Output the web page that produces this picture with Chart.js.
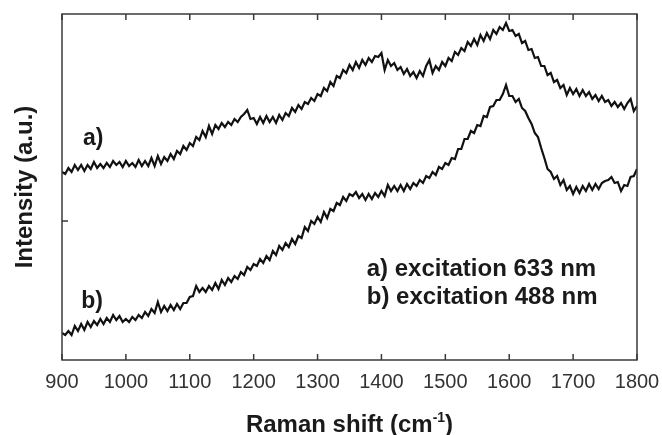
<!DOCTYPE html>
<html>
<head>
<meta charset="utf-8">
<script src="https://cdn.jsdelivr.net/npm/chart.js@4.4.1/dist/chart.umd.min.js"></script>
<style>
  html, body { margin: 0; padding: 0; background: #fff; }
  #wrap { width: 662px; height: 435px; }
</style>
</head>
<body>
<div id="wrap"><canvas id="ramanChart" width="662" height="435"></canvas></div>
<script>
// Raman shift (cm-1), sampled every 5 cm-1
const ramanShift = [
  900, 905, 910, 915, 920, 925, 930, 935, 940, 945, 950, 955, 960, 965, 970, 975, 980, 985, 990, 995,
  1000, 1005, 1010, 1015, 1020, 1025, 1030, 1035, 1040, 1045, 1050, 1055, 1060, 1065, 1070, 1075, 1080, 1085, 1090, 1095,
  1100, 1105, 1110, 1115, 1120, 1125, 1130, 1135, 1140, 1145, 1150, 1155, 1160, 1165, 1170, 1175, 1180, 1185, 1190, 1195,
  1200, 1205, 1210, 1215, 1220, 1225, 1230, 1235, 1240, 1245, 1250, 1255, 1260, 1265, 1270, 1275, 1280, 1285, 1290, 1295,
  1300, 1305, 1310, 1315, 1320, 1325, 1330, 1335, 1340, 1345, 1350, 1355, 1360, 1365, 1370, 1375, 1380, 1385, 1390, 1395,
  1400, 1405, 1410, 1415, 1420, 1425, 1430, 1435, 1440, 1445, 1450, 1455, 1460, 1465, 1470, 1475, 1480, 1485, 1490, 1495,
  1500, 1505, 1510, 1515, 1520, 1525, 1530, 1535, 1540, 1545, 1550, 1555, 1560, 1565, 1570, 1575, 1580, 1585, 1590, 1595,
  1600, 1605, 1610, 1615, 1620, 1625, 1630, 1635, 1640, 1645, 1650, 1655, 1660, 1665, 1670, 1675, 1680, 1685, 1690, 1695,
  1700, 1705, 1710, 1715, 1720, 1725, 1730, 1735, 1740, 1745, 1750, 1755, 1760, 1765, 1770, 1775, 1780, 1785, 1790, 1795,
  1800
];

// a) excitation 633 nm (a.u.)
const excitation633 = [
  188, 186, 192, 188, 195, 190, 195, 189, 195, 191, 198, 192, 196, 192, 197, 193, 199, 195, 198, 193,
  199, 194, 197, 193, 200, 194, 199, 194, 202, 194, 204, 196, 203, 199, 206, 201, 209, 206, 214, 210,
  217, 214, 223, 220, 229, 223, 234, 226, 235, 231, 237, 233, 238, 235, 241, 238, 243, 246, 250, 241,
  242, 236, 243, 237, 244, 238, 243, 237, 245, 240, 247, 244, 252, 248, 255, 251, 258, 256, 262, 259,
  266, 264, 272, 269, 278, 274, 284, 282, 290, 287, 295, 290, 298, 292, 300, 295, 302, 298, 304, 303,
  307, 290, 300, 294, 297, 290, 293, 286, 291, 284, 288, 282, 289, 284, 294, 300, 287, 294, 290, 298,
  294, 302, 299, 308, 305, 312, 309, 318, 314, 321, 315, 325, 319, 327, 321, 330, 326, 333, 330, 337,
  329, 330, 324, 326, 317, 319, 310, 311, 302, 303, 294, 294, 285, 287, 278, 280, 272, 275, 265, 272,
  266, 271, 264, 270, 264, 268, 261, 265, 259, 264, 258, 260, 254, 258, 253, 257, 251, 257, 261, 249,
  254
];

// b) excitation 488 nm (a.u.)
const excitation488 = [
  27, 25, 29, 25, 34, 29, 36, 30, 38, 33, 39, 35, 41, 36, 42, 38, 45, 40, 44, 38,
  41, 38, 43, 40, 45, 42, 48, 44, 51, 47, 58, 48, 54, 49, 55, 50, 56, 51, 57, 57,
  63, 64, 74, 68, 72, 68, 74, 70, 77, 71, 80, 75, 82, 78, 84, 81, 88, 85, 93, 90,
  96, 94, 101, 97, 104, 100, 109, 105, 114, 110, 117, 113, 121, 116, 124, 122, 133, 129, 139, 136,
  143, 138, 148, 142, 151, 149, 157, 155, 163, 159, 166, 164, 168, 162, 166, 160, 166, 161, 167, 163,
  169, 164, 175, 169, 174, 169, 175, 169, 176, 171, 177, 174, 180, 177, 184, 182, 188, 185, 193, 191,
  197, 195, 202, 201, 211, 211, 221, 221, 229, 227, 235, 234, 244, 243, 253, 254, 260, 260, 266, 275,
  264, 264, 258, 261, 252, 249, 242, 236, 227, 223, 212, 202, 191, 188, 181, 184, 175, 180, 170, 174,
  166, 173, 167, 174, 169, 176, 170, 176, 171, 177, 179, 180, 183, 177, 178, 169, 175, 174, 183, 184,
  191
];

const xTicks = [900, 1000, 1100, 1200, 1300, 1400, 1500, 1600, 1700, 1800];
const yTicks = [139];

// text notes, anchored in data space [shift, intensity]
const curveLabels = [
  { text: "a)", at: [933, 215] },
  { text: "b)", at: [930, 52] }
];
const legendLines = [
  { text: "a) excitation 633 nm", at: [1377, 84] },
  { text: "b) excitation 488 nm", at: [1377, 56] }
];

const FONT = "'Liberation Sans', Arial, sans-serif";

const toPoints = values => values.map((v, i) => ({ x: ramanShift[i], y: v }));

const boxPlugin = {
  id: "box",
  afterDatasetsDraw(chart) {
    const { ctx, chartArea: a, scales } = chart;
    const x = scales.x;
    const y = scales.y;
    ctx.save();

    // frame + inward ticks
    ctx.strokeStyle = "#3a3a3a";
    ctx.lineWidth = 1.5;
    ctx.strokeRect(a.left, a.top, a.right - a.left, a.bottom - a.top);
    ctx.beginPath();
    xTicks.forEach(v => {
      const px = x.getPixelForValue(v);
      ctx.moveTo(px, a.bottom);
      ctx.lineTo(px, a.bottom - 6);
      ctx.moveTo(px, a.top);
      ctx.lineTo(px, a.top + 6);
    });
    yTicks.forEach(v => {
      const py = y.getPixelForValue(v);
      ctx.moveTo(a.left, py);
      ctx.lineTo(a.left + 6, py);
    });
    ctx.stroke();

    // notes
    ctx.fillStyle = "#1a1a1a";
    ctx.textAlign = "left";
    ctx.textBaseline = "alphabetic";
    ctx.font = "bold 23px " + FONT;
    curveLabels.forEach(n => {
      ctx.fillText(n.text, x.getPixelForValue(n.at[0]), y.getPixelForValue(n.at[1]));
    });
    ctx.font = "bold 24px " + FONT;
    legendLines.forEach(n => {
      ctx.fillText(n.text, x.getPixelForValue(n.at[0]), y.getPixelForValue(n.at[1]));
    });

    // x title with superscript
    const main = "Raman shift (cm";
    const sup = "-1";
    const close = ")";
    const bigFont = "bold 24px " + FONT;
    const smallFont = "bold 14px " + FONT;
    ctx.font = bigFont;
    const w1 = ctx.measureText(main).width;
    const w3 = ctx.measureText(close).width;
    ctx.font = smallFont;
    const w2 = ctx.measureText(sup).width;
    let sx = (a.left + a.right) / 2 - (w1 + w2 + w3) / 2;
    const base = 432;
    ctx.font = bigFont;
    ctx.fillText(main, sx, base);
    sx += w1;
    ctx.font = smallFont;
    ctx.fillText(sup, sx, base - 10);
    sx += w2;
    ctx.font = bigFont;
    ctx.fillText(close, sx, base);

    ctx.restore();
  }
};

new Chart(document.getElementById("ramanChart").getContext("2d"), {
  type: "line",
  data: {
    datasets: [
      {
        label: "a) excitation 633 nm",
        data: toPoints(excitation633),
        borderColor: "#111",
        borderWidth: 2.2,
        pointRadius: 0,
        tension: 0,
        fill: false
      },
      {
        label: "b) excitation 488 nm",
        data: toPoints(excitation488),
        borderColor: "#111",
        borderWidth: 2.2,
        pointRadius: 0,
        tension: 0,
        fill: false
      }
    ]
  },
  options: {
    responsive: false,
    animation: false,
    layout: { padding: { top: 14, right: 25, left: 0, bottom: 0 } },
    plugins: {
      legend: { display: false },
      tooltip: { enabled: false }
    },
    scales: {
      x: {
        type: "linear",
        min: 900,
        max: 1800,
        afterBuildTicks: scale => {
          scale.ticks = xTicks.map(v => ({ value: v }));
        },
        ticks: {
          autoSkip: false,
          maxRotation: 0,
          padding: 10,
          color: "#333",
          font: { family: FONT, size: 20 },
          callback: value => String(value)
        },
        grid: { display: false, drawTicks: false },
        border: { display: false },
        afterFit: scale => {
          scale.height = 75;
          scale.paddingLeft = 0;
          scale.paddingRight = 0;
        }
      },
      y: {
        min: 0,
        max: 346,
        afterBuildTicks: scale => {
          scale.ticks = yTicks.map(v => ({ value: v }));
        },
        ticks: { display: false },
        grid: { display: false, drawTicks: false },
        border: { display: false },
        title: {
          display: true,
          text: "Intensity (a.u.)",
          color: "#1a1a1a",
          padding: { top: 11, bottom: 0 },
          font: { family: FONT, size: 24, weight: "bold" }
        },
        afterFit: scale => {
          scale.width = 62;
        }
      }
    }
  },
  plugins: [boxPlugin]
});
</script>
</body>
</html>
